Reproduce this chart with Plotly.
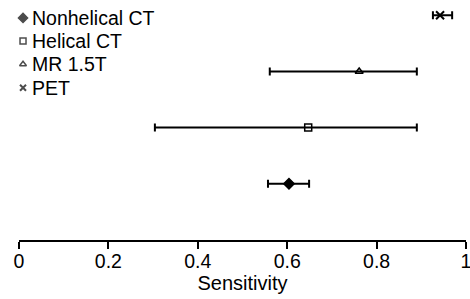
import plotly.graph_objects as go

names = ["Nonhelical CT", "Helical CT", "MR 1.5T", "PET"]
sens = [0.604, 0.647, 0.761, 0.942]
lower = [0.557, 0.304, 0.561, 0.926]
upper = [0.649, 0.890, 0.890, 0.969]
ypos = [1, 2, 3, 4]
symbols = ["diamond", "square-open", "triangle-up-open", "x-thin-open"]
sizes = [8, 7, 7, 8]
legend_sizes = [7, 6, 6, 6]
tick_vals = [0, 0.2, 0.4, 0.6, 0.8, 1]
tick_text = ["0", "0.2", "0.4", "0.6", "0.8", "1"]

FONT = "Liberation Sans, Arial, sans-serif"

fig = go.Figure()
for n, s, lo, up, y, sym, sz in zip(names, sens, lower, upper, ypos, symbols, sizes):
    fig.add_trace(go.Scatter(
        x=[s], y=[y], mode="markers", name=n, showlegend=False,
        marker=dict(symbol=sym, size=sz, color="black",
                    line=dict(color="black", width=2 if "x" in sym else 1.5)),
        error_x=dict(type="data", symmetric=False, array=[up - s], arrayminus=[s - lo],
                     color="black", thickness=2, width=4),
        cliponaxis=False,
    ))

# manual legend (layout positions in plot-area fractions)
leg_marker_x = 0.009
leg_text_x = 0.025
leg_y = [0.941, 0.843, 0.745, 0.645]
fig.add_trace(go.Scatter(
    x=[leg_marker_x] * len(names), y=leg_y, xaxis="x2", yaxis="y2",
    mode="markers", showlegend=False, hoverinfo="skip", cliponaxis=False,
    marker=dict(symbol=symbols, size=legend_sizes, color="black",
                line=dict(color="black", width=[1.5, 1.5, 1.5, 2])),
))
for n, y in zip(names, leg_y):
    fig.add_annotation(x=leg_text_x, y=y, xref="paper", yref="paper",
                       text=n, showarrow=False, xanchor="left", yanchor="middle",
                       font=dict(family=FONT, size=19.5, color="black"))

fig.update_layout(
    width=470, height=299,
    margin=dict(l=19, r=4, t=4, b=59),
    plot_bgcolor="white", paper_bgcolor="white",
    font=dict(family=FONT, size=19.5, color="black"),
    showlegend=False,
    xaxis=dict(range=[0, 1], tickvals=tick_vals, ticktext=tick_text,
               showline=True, linecolor="black", linewidth=1.5,
               ticks="outside", ticklen=7, tickwidth=1.5, tickcolor="black",
               showgrid=False, zeroline=False, automargin=False,
               ticklabeloverflow="allow", ticklabelstandoff=-4,
               tickfont=dict(size=19.5),
               title=dict(text="Sensitivity", font=dict(size=20), standoff=2)),
    yaxis=dict(range=[0, 4.2], visible=False, showgrid=False, zeroline=False,
               automargin=False),
    xaxis2=dict(range=[0, 1], overlaying="x", visible=False, automargin=False),
    yaxis2=dict(range=[0, 1], overlaying="y", visible=False, automargin=False),
)

fig.write_html("out.html", config={"displayModeBar": False},
               post_script="document.body.style.margin='0';document.body.style.overflow='hidden';")
